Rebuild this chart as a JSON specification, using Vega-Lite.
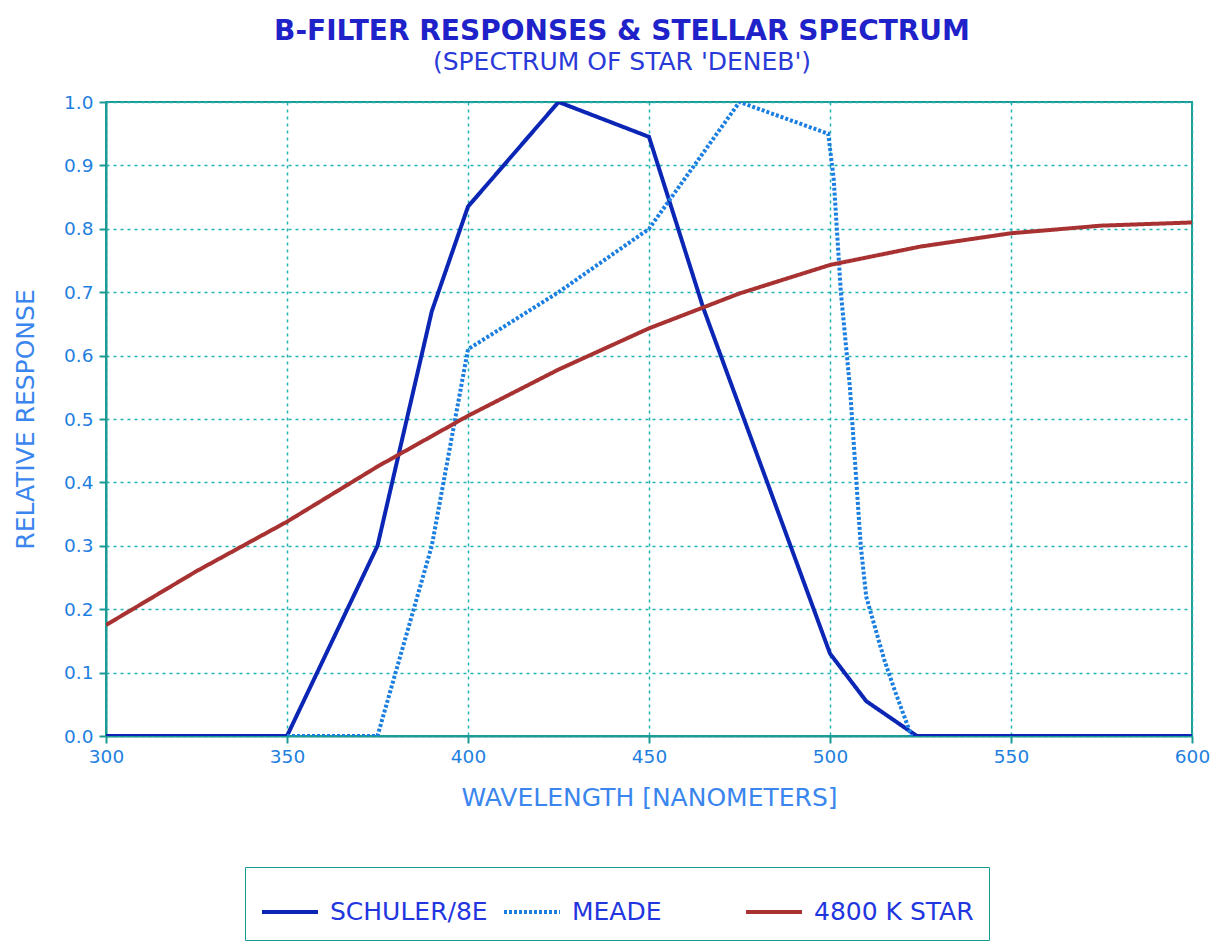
{
  "$schema": "https://vega.github.io/schema/vega-lite/v6.json",
  "autosize": "none",
  "width": 1086,
  "height": 634,
  "padding": {"left": 106, "top": 102, "right": 18, "bottom": 208},
  "background": "white",
  "title": {
    "text": "B-FILTER RESPONSES & STELLAR SPECTRUM",
    "subtitle": "(SPECTRUM OF STAR 'DENEB')",
    "anchor": "middle",
    "frame": "group",
    "dx": -27,
    "offset": 18,
    "font": "DejaVu Sans",
    "fontSize": 28,
    "fontWeight": "bold",
    "color": "#1e22c8",
    "subtitleFont": "DejaVu Sans",
    "subtitleFontSize": 25,
    "subtitleColor": "#2a3ad8",
    "subtitlePadding": 4
  },
  "config": {
    "view": {"stroke": "#1c9a94", "strokeWidth": 2},
    "axis": {
      "labelFont": "DejaVu Sans",
      "labelFontSize": 18.5,
      "labelColor": "#1f7fe0",
      "titleFont": "DejaVu Sans",
      "titleFontSize": 25,
      "titleFontWeight": "normal",
      "titleColor": "#3a86ee",
      "domainColor": "#1c9a94",
      "domainWidth": 2,
      "tickColor": "#1c9a94",
      "tickWidth": 2,
      "tickSize": 7,
      "gridColor": "#22b2b2",
      "gridDash": [3, 4],
      "gridWidth": 1.5,
      "gridOpacity": 1
    }
  },
  "data": {
    "values": [
      {"wl": 300, "r": 0, "s": "SCHULER/8E"},
      {"wl": 350, "r": 0, "s": "SCHULER/8E"},
      {"wl": 375, "r": 0.30, "s": "SCHULER/8E"},
      {"wl": 390, "r": 0.67, "s": "SCHULER/8E"},
      {"wl": 400, "r": 0.835, "s": "SCHULER/8E"},
      {"wl": 425, "r": 1.0, "s": "SCHULER/8E"},
      {"wl": 450, "r": 0.945, "s": "SCHULER/8E"},
      {"wl": 465, "r": 0.675, "s": "SCHULER/8E"},
      {"wl": 500, "r": 0.13, "s": "SCHULER/8E"},
      {"wl": 510, "r": 0.055, "s": "SCHULER/8E"},
      {"wl": 524, "r": 0, "s": "SCHULER/8E"},
      {"wl": 600, "r": 0, "s": "SCHULER/8E"},
      {"wl": 350, "r": 0, "s": "MEADE"},
      {"wl": 375, "r": 0, "s": "MEADE"},
      {"wl": 390, "r": 0.30, "s": "MEADE"},
      {"wl": 400, "r": 0.61, "s": "MEADE"},
      {"wl": 425, "r": 0.70, "s": "MEADE"},
      {"wl": 450, "r": 0.80, "s": "MEADE"},
      {"wl": 475, "r": 1.0, "s": "MEADE"},
      {"wl": 499.5, "r": 0.95, "s": "MEADE"},
      {"wl": 501, "r": 0.88, "s": "MEADE"},
      {"wl": 503, "r": 0.70, "s": "MEADE"},
      {"wl": 505.5, "r": 0.55, "s": "MEADE"},
      {"wl": 508.5, "r": 0.30, "s": "MEADE"},
      {"wl": 510, "r": 0.22, "s": "MEADE"},
      {"wl": 515, "r": 0.12, "s": "MEADE"},
      {"wl": 518, "r": 0.07, "s": "MEADE"},
      {"wl": 522.5, "r": 0, "s": "MEADE"},
      {"wl": 300, "r": 0.175, "s": "4800 K STAR"},
      {"wl": 325, "r": 0.26, "s": "4800 K STAR"},
      {"wl": 350, "r": 0.338, "s": "4800 K STAR"},
      {"wl": 375, "r": 0.425, "s": "4800 K STAR"},
      {"wl": 400, "r": 0.505, "s": "4800 K STAR"},
      {"wl": 425, "r": 0.578, "s": "4800 K STAR"},
      {"wl": 450, "r": 0.643, "s": "4800 K STAR"},
      {"wl": 475, "r": 0.698, "s": "4800 K STAR"},
      {"wl": 500, "r": 0.743, "s": "4800 K STAR"},
      {"wl": 525, "r": 0.772, "s": "4800 K STAR"},
      {"wl": 550, "r": 0.793, "s": "4800 K STAR"},
      {"wl": 575, "r": 0.805, "s": "4800 K STAR"},
      {"wl": 600, "r": 0.81, "s": "4800 K STAR"}
    ]
  },
  "mark": {"type": "line", "strokeWidth": 4, "strokeCap": "butt", "clip": true},
  "encoding": {
    "x": {
      "field": "wl",
      "type": "quantitative",
      "scale": {"domain": [300, 600], "nice": false, "zero": false},
      "axis": {
        "values": [300, 350, 400, 450, 500, 550, 600],
        "format": "d",
        "labelFlush": false,
        "labelPadding": 4,
        "title": "WAVELENGTH [NANOMETERS]",
        "titleY": 61,
        "titleBaseline": "middle"
      }
    },
    "y": {
      "field": "r",
      "type": "quantitative",
      "scale": {"domain": [0, 1], "nice": false},
      "axis": {
        "values": [0, 0.1, 0.2, 0.3, 0.4, 0.5, 0.6, 0.7, 0.8, 0.9, 1.0],
        "format": ".1f",
        "labelFlush": false,
        "labelPadding": 6,
        "title": "RELATIVE RESPONSE",
        "titleX": -81,
        "titleY": 317,
        "titleAngle": 270,
        "titleAlign": "center",
        "titleBaseline": "middle"
      }
    },
    "color": {
      "field": "s",
      "type": "nominal",
      "scale": {
        "domain": ["SCHULER/8E", "MEADE", "4800 K STAR"],
        "range": ["#0b26b4", "#1a7fe0", "#a83232"]
      },
      "legend": {
        "title": null,
        "orient": "none",
        "legendX": 139,
        "legendY": 765,
        "direction": "horizontal",
        "columns": 3,
        "gridAlign": "all",
        "columnPadding": 6,
        "padding": 15,
        "strokeColor": "#1c9a94",
        "fillColor": "white",
        "symbolType": "stroke",
        "symbolSize": 3136,
        "symbolStrokeWidth": 4,
        "symbolOffset": 0,
        "labelOffset": 10,
        "labelFont": "DejaVu Sans",
        "labelFontSize": 25,
        "labelColor": "#2236e0",
        "labelLimit": 400
      }
    },
    "strokeDash": {
      "field": "s",
      "type": "nominal",
      "scale": {
        "domain": ["SCHULER/8E", "MEADE", "4800 K STAR"],
        "range": [[1, 0], [3, 2], [1, 0]]
      },
      "legend": null
    },
    "order": {"field": "wl", "type": "quantitative"}
  }
}
